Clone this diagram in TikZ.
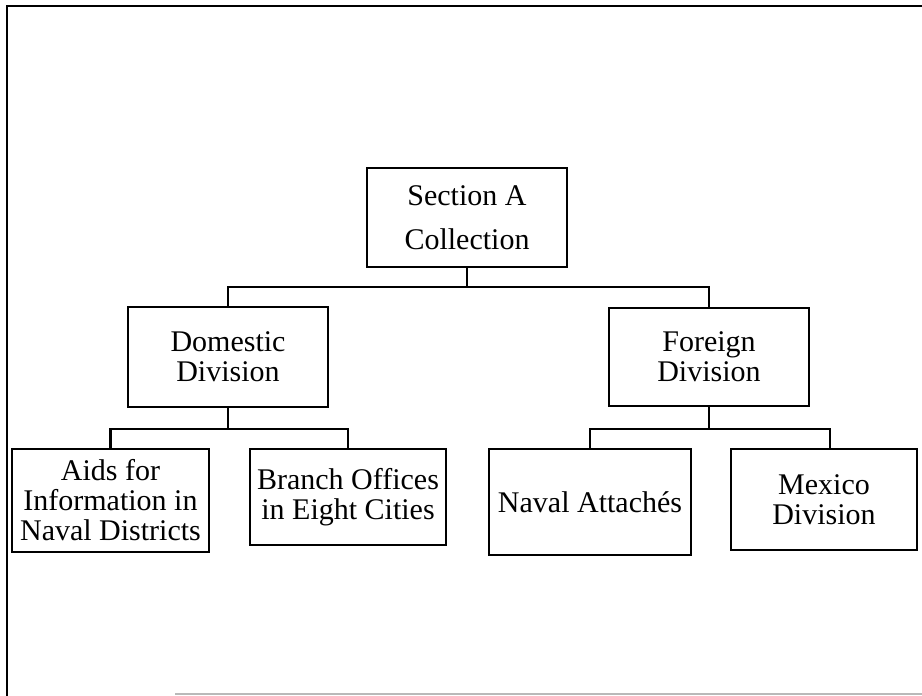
\documentclass[tikz,border=0pt]{standalone}
\usepackage{fontspec}
\setmainfont{Liberation Serif}
\begin{document}
\begin{tikzpicture}[x=1pt,y=-1pt,
  unit/.style={draw, line width=2.8pt, inner sep=0pt, align=center, font=\fontsize{30}{30}\selectfont},
  link/.style={line width=2.6pt},
  frame/.style={line width=2.8pt}]
\useasboundingbox (0,0) rectangle (922,696);
% frame
\coordinate (fa) at (7,696);
\coordinate (fb) at (7,6);
\coordinate (fc) at (922,6);
\coordinate (fd) at (175,694);
\coordinate (fe) at (922,694);
\draw[frame] (fa) -- (fb) -- (fc);
\draw[line width=1.6pt, gray!55] (fd) -- (fe);
% boxes
\node[unit, minimum width=200pt, minimum height=99pt, font=\fontsize{30}{44}\selectfont] (sec) at (467,217.5) {Section A\\Collection};
\node[unit, minimum width=200pt, minimum height=100pt] (dom) at (228,357) {Domestic\\Division};
\node[unit, minimum width=200pt, minimum height=98pt] (for) at (709,357) {Foreign\\Division};
\node[unit, minimum width=197pt, minimum height=103pt] (aids) at (110.5,500.5) {Aids for\\Information in\\Naval Districts};
\node[unit, minimum width=196pt, minimum height=96pt] (branch) at (348,497) {Branch Offices\\in Eight Cities};
\node[unit, minimum width=202pt, minimum height=106pt] (naval) at (590,502) {Naval Attachés};
\node[unit, minimum width=186pt, minimum height=101pt] (mex) at (824,499.5) {Mexico\\Division};
% connectors
\coordinate (j1) at (467,287);
\draw[link] (sec.south) -- (j1);
\draw[link] (dom.north) |- (j1) -| (for.north);
\coordinate (j2) at (228,429);
\draw[link] (dom.south) -- (j2);
\draw[link] (aids.north) |- (j2) -| (branch.north);
\coordinate (j3) at (709,429);
\coordinate (mx) at (830,449);
\draw[link] (for.south) -- (j3);
\draw[link] (naval.north) |- (j3) -| (mx);
\end{tikzpicture}
\end{document}
